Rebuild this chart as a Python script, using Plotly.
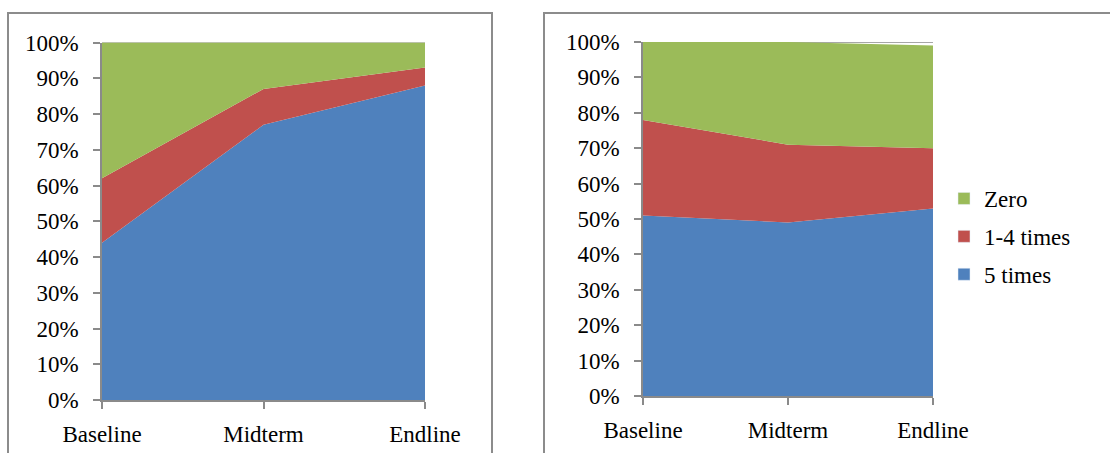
import plotly.graph_objects as go

# Survey rounds
rounds = ["Baseline", "Midterm", "Endline"]

# Left panel: share of respondents (percent) by frequency
left_five = [44, 77, 88]
left_one_four = [18, 10, 5]
left_zero = [38, 13, 7]

# Right panel
right_five = [51, 49, 53]
right_one_four = [27, 22, 17]
right_zero = [22, 29, 29]

series_names = ["5 times", "1-4 times", "Zero"]
colors = {"5 times": "#4F81BD", "1-4 times": "#C0504D", "Zero": "#9BBB59"}

W, H = 1110, 453
FONT = "Times New Roman"
AXIS_GRAY = "#8a8a8a"

fig = go.Figure()

panels = [
    ("x", "y", [left_five, left_one_four, left_zero]),
    ("x2", "y2", [right_five, right_one_four, right_zero]),
]
for xa, ya, values in panels:
    for name, vals in zip(series_names, values):
        fig.add_trace(go.Scatter(
            x=rounds, y=[v / 100 for v in vals],
            xaxis=xa, yaxis=ya,
            mode="lines", line=dict(width=0, color=colors[name]),
            fillcolor=colors[name], stackgroup="s" + xa,
            showlegend=False, hoverinfo="skip",
        ))

# Legend swatches (square markers), top to bottom
for name in ["Zero", "1-4 times", "5 times"]:
    fig.add_trace(go.Bar(
        x=[None], y=[None], name=name, marker_color=colors[name],
        xaxis="x2", yaxis="y2", legendgroup=name, showlegend=True,
    ))


def px_x(p):
    return p / W


def px_y(p):
    return 1 - p / H


axis_common = dict(
    showline=True, linecolor=AXIS_GRAY, linewidth=1.5,
    ticks="outside", ticklen=7, tickcolor=AXIS_GRAY, tickwidth=1.5,
    showgrid=False, zeroline=False, fixedrange=True, automargin=False,
    tickfont=dict(family=FONT, size=23, color="black"),
)

xaxis_cfg = dict(axis_common, type="category", range=[0, 2],
                 categoryorder="array", categoryarray=rounds,
                 ticklabelstandoff=6)
yaxis_cfg = dict(axis_common, range=[0, 1], dtick=0.1, tickformat=".0%",
                 ticklabelstandoff=10)

fig.update_layout(
    width=W, height=H,
    margin=dict(l=0, r=0, t=0, b=0, autoexpand=False),
    paper_bgcolor="white", plot_bgcolor="white",
    font=dict(family=FONT),
    xaxis=dict(xaxis_cfg, domain=[px_x(102), px_x(425)], anchor="y"),
    yaxis=dict(yaxis_cfg, domain=[px_y(400), px_y(42.5)], anchor="x"),
    xaxis2=dict(xaxis_cfg, domain=[px_x(643), px_x(933)], anchor="y2"),
    yaxis2=dict(yaxis_cfg, domain=[px_y(396), px_y(42)], anchor="x2"),
    barmode="overlay",
    legend=dict(
        x=px_x(944), y=px_y(177), xanchor="left", yanchor="top",
        traceorder="grouped", tracegroupgap=5,
        font=dict(family=FONT, size=23, color="black"),
        bgcolor="rgba(0,0,0,0)",
    ),
    showlegend=True,
    shapes=[
        # chart frames
        dict(type="rect", xref="paper", yref="paper",
             x0=px_x(8), x1=px_x(492), y0=px_y(470), y1=px_y(13),
             line=dict(color="#8c8c8c", width=2), fillcolor="rgba(0,0,0,0)"),
        dict(type="rect", xref="paper", yref="paper",
             x0=px_x(544), x1=px_x(1125), y0=px_y(470), y1=px_y(13),
             line=dict(color="#8c8c8c", width=2), fillcolor="rgba(0,0,0,0)"),
        # top boundary line at 100%
        dict(type="line", xref="x domain", yref="y", x0=0, x1=1, y0=1, y1=1,
             line=dict(color=AXIS_GRAY, width=1.5), layer="below"),
        dict(type="line", xref="x2 domain", yref="y2", x0=0, x1=1, y0=1, y1=1,
             line=dict(color=AXIS_GRAY, width=1.5), layer="below"),
    ],
)

fig.write_html("out.html")
